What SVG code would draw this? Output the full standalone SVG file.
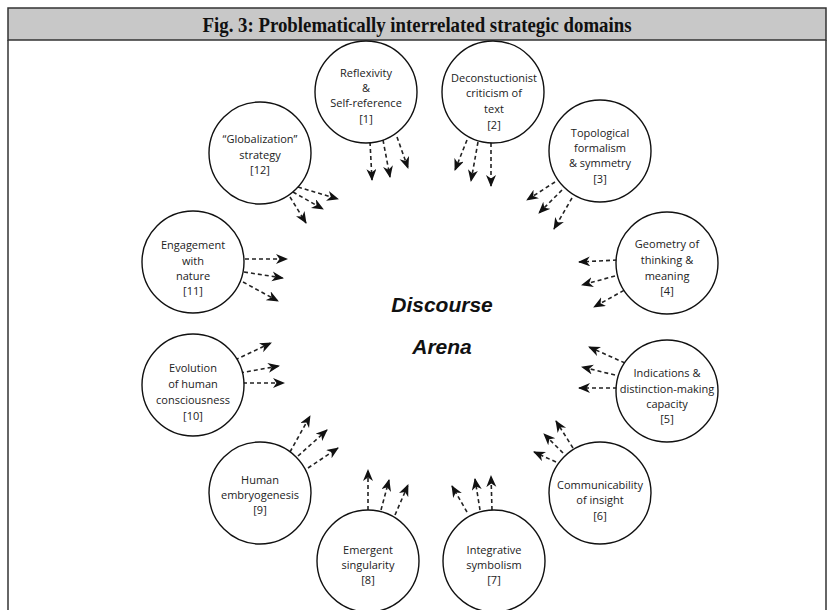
<svg xmlns="http://www.w3.org/2000/svg" width="833" height="610" viewBox="0 0 833 610">
<defs>
<marker id="ah" markerUnits="userSpaceOnUse" markerWidth="14" markerHeight="11" refX="11" refY="5" orient="auto">
<path d="M0,0 L12,5 L0,10 L3.5,5 z" fill="#111"/>
</marker>
<style>
.c{fill:#fff;stroke:#111;stroke-width:1.4}
.t{font-family:"Open Sans","Noto Sans",sans-serif;font-size:11px;fill:#222;text-anchor:middle}
.a{stroke:#222;stroke-width:1.6;stroke-dasharray:4 3;fill:none;marker-end:url(#ah)}
.big{font-family:"Liberation Sans",Arial,sans-serif;font-size:21px;font-weight:bold;font-style:italic;fill:#111;text-anchor:middle}
</style>
</defs>
<rect x="0" y="0" width="833" height="610" fill="#fff"/>
<g id="frame">
<rect x="8" y="8" width="818" height="32" fill="#c8c8c8" stroke="#333" stroke-width="1.5"/>
<line x1="8" y1="40" x2="8" y2="610" stroke="#333" stroke-width="1.5"/>
<line x1="826" y1="40" x2="826" y2="610" stroke="#333" stroke-width="1.5"/>
<text x="417" y="32" font-family="'Liberation Serif','Times New Roman',serif" font-size="21" font-weight="bold" text-anchor="middle" textLength="429" lengthAdjust="spacingAndGlyphs" fill="#111">Fig. 3: Problematically interrelated strategic domains</text>
</g>
<g id="center-label">
<text class="big" x="442" y="312">Discourse</text>
<text class="big" x="442" y="354">Arena</text>
</g>
<g id="connectors">
<line class="a" x1="370" y1="142" x2="372" y2="180"/>
<line class="a" x1="383" y1="140" x2="390" y2="177"/>
<line class="a" x1="397" y1="137" x2="408" y2="168"/>
<line class="a" x1="467" y1="140" x2="455" y2="170"/>
<line class="a" x1="478" y1="142" x2="471" y2="181"/>
<line class="a" x1="491" y1="143" x2="491" y2="186"/>
<line class="a" x1="298" y1="187" x2="338" y2="199"/>
<line class="a" x1="293" y1="192" x2="323" y2="209"/>
<line class="a" x1="290" y1="197" x2="306" y2="223"/>
<line class="a" x1="555" y1="182" x2="527" y2="200"/>
<line class="a" x1="562" y1="190" x2="539" y2="213"/>
<line class="a" x1="572" y1="198" x2="554" y2="229"/>
<line class="a" x1="245" y1="259" x2="287" y2="259"/>
<line class="a" x1="244" y1="272" x2="283" y2="278"/>
<line class="a" x1="243" y1="282" x2="278" y2="301"/>
<line class="a" x1="617" y1="260" x2="579" y2="262"/>
<line class="a" x1="615" y1="276" x2="582" y2="285"/>
<line class="a" x1="630" y1="287" x2="594" y2="307"/>
<line class="a" x1="235" y1="360" x2="271" y2="343"/>
<line class="a" x1="240" y1="373" x2="279" y2="366"/>
<line class="a" x1="243" y1="383" x2="284" y2="383"/>
<line class="a" x1="625" y1="363" x2="589" y2="347"/>
<line class="a" x1="615" y1="375" x2="582" y2="367"/>
<line class="a" x1="617" y1="388" x2="579" y2="388"/>
<line class="a" x1="290" y1="452" x2="310" y2="416"/>
<line class="a" x1="298" y1="456" x2="327" y2="430"/>
<line class="a" x1="308" y1="468" x2="338" y2="448"/>
<line class="a" x1="556" y1="462" x2="534" y2="452"/>
<line class="a" x1="563" y1="453" x2="544" y2="434"/>
<line class="a" x1="573" y1="448" x2="556" y2="421"/>
<line class="a" x1="368" y1="510" x2="368" y2="470"/>
<line class="a" x1="381" y1="510" x2="389" y2="480"/>
<line class="a" x1="395" y1="515" x2="408" y2="485"/>
<line class="a" x1="467" y1="512" x2="452" y2="486"/>
<line class="a" x1="480" y1="510" x2="475" y2="479"/>
<line class="a" x1="492" y1="510" x2="491" y2="476"/>
</g>
<g id="n1"><circle class="c" cx="366" cy="92" r="51"/>
<text class="t" x="366" y="77">Reflexivity</text><text class="t" x="366" y="92">&amp;</text><text class="t" x="366" y="107">Self-reference</text><text class="t" x="366" y="123">[1]</text></g>
<g id="n2"><circle class="c" cx="493" cy="92" r="51"/>
<text class="t" x="494" y="82">Deconstuctionist</text><text class="t" x="494" y="97">criticism of</text><text class="t" x="494" y="113">text</text><text class="t" x="494" y="129">[2]</text></g>
<g id="n3"><circle class="c" cx="600" cy="151" r="51"/>
<text class="t" x="600" y="137">Topological</text><text class="t" x="600" y="152">formalism</text><text class="t" x="600" y="167">&amp; symmetry</text><text class="t" x="600" y="183">[3]</text></g>
<g id="n4"><circle class="c" cx="667" cy="263" r="51"/>
<text class="t" x="667" y="248">Geometry of</text><text class="t" x="667" y="264">thinking &amp;</text><text class="t" x="667" y="280">meaning</text><text class="t" x="667" y="295">[4]</text></g>
<g id="n5"><circle class="c" cx="667" cy="391" r="51"/>
<text class="t" x="667" y="377">Indications &amp;</text><text class="t" x="667" y="393">distinction-making</text><text class="t" x="667" y="408">capacity</text><text class="t" x="667" y="423">[5]</text></g>
<g id="n6"><circle class="c" cx="600" cy="493" r="51"/>
<text class="t" x="600" y="489">Communicability</text><text class="t" x="600" y="504">of insight</text><text class="t" x="600" y="520">[6]</text></g>
<g id="n7"><circle class="c" cx="494" cy="561" r="51"/>
<text class="t" x="494" y="554">Integrative</text><text class="t" x="494" y="569">symbolism</text><text class="t" x="494" y="584">[7]</text></g>
<g id="n8"><circle class="c" cx="368" cy="561" r="51"/>
<text class="t" x="368" y="554">Emergent</text><text class="t" x="368" y="569">singularity</text><text class="t" x="368" y="584">[8]</text></g>
<g id="n9"><circle class="c" cx="260" cy="493" r="51"/>
<text class="t" x="260" y="484">Human</text><text class="t" x="260" y="499">embryogenesis</text><text class="t" x="260" y="514">[9]</text></g>
<g id="n10"><circle class="c" cx="193" cy="385" r="51"/>
<text class="t" x="193" y="372">Evolution</text><text class="t" x="193" y="388">of human</text><text class="t" x="193" y="404">consciousness</text><text class="t" x="193" y="420">[10]</text></g>
<g id="n11"><circle class="c" cx="193" cy="262" r="51"/>
<text class="t" x="193" y="249">Engagement</text><text class="t" x="193" y="265">with</text><text class="t" x="193" y="280">nature</text><text class="t" x="193" y="295">[11]</text></g>
<g id="n12"><circle class="c" cx="260" cy="153" r="51"/>
<text class="t" x="260" y="143">“Globalization”</text><text class="t" x="260" y="159">strategy</text><text class="t" x="260" y="174">[12]</text></g>
</svg>
